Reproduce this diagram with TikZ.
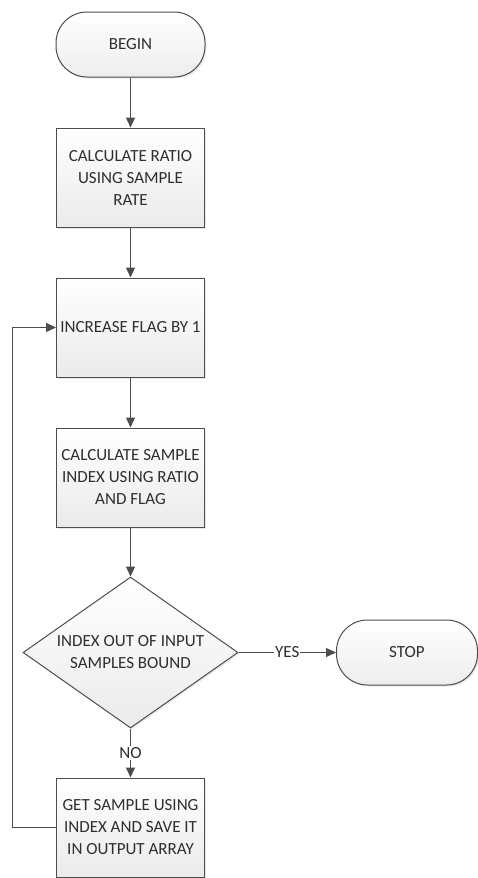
\documentclass[tikz,border=0pt]{standalone}
\usepackage{fontspec}
\setmainfont{Carlito}
\usetikzlibrary{positioning,shapes.geometric,shadows,arrows.meta}
\definecolor{linie}{HTML}{4D4D4D}
\definecolor{schrift}{HTML}{2E2E2E}

\begin{document}
\begin{tikzpicture}[x=1pt, y=-1pt, node distance=150pt]
    % Rahmen der Abbildung
    \useasboundingbox (0,0) rectangle (478,878);

    \tikzstyle{terminal} = [rectangle, rounded corners=31pt, minimum width=149pt, minimum height=65pt, text centered, draw=linie, line width=1pt, top color=white, bottom color=gray!14, drop shadow={shadow xshift=1.5pt, shadow yshift=-1.5pt, opacity=0.18}]
    \tikzstyle{process} = [rectangle, minimum width=148pt, minimum height=99pt, inner sep=0pt, align=center, draw=linie, line width=1pt, top color=white, bottom color=gray!16, drop shadow={shadow xshift=1.5pt, shadow yshift=-1.5pt, opacity=0.18}]
    \tikzstyle{decision} = [diamond, aspect=1.42, minimum width=215pt, minimum height=151pt, inner sep=0pt, align=center, draw=linie, line width=1pt, top color=white, bottom color=gray!16, drop shadow={shadow xshift=1.5pt, shadow yshift=-1.5pt, opacity=0.18}]
    \tikzstyle{arrow} = [line width=1.1pt, draw=linie, -{Triangle[length=10pt, width=9pt]}]
    \tikzstyle{every node} = [font=\fontsize{17}{22}\selectfont, text=schrift]

            % node[Optionen](Name){Inhalt}
            \node (Begin) [terminal] at (130.5,44.5) {BEGIN};
            \node (Ratio) [process, below of=Begin, yshift=17pt] {CALCULATE RATIO\\USING SAMPLE\\RATE};
            \node (Flag) [process, below of=Ratio] {INCREASE FLAG BY 1};
            \node (Index) [process, below of=Flag] {CALCULATE SAMPLE\\INDEX USING RATIO\\AND FLAG};
            \node (Bound) [decision, below of=Index, yshift=-25pt] {INDEX OUT OF INPUT\\SAMPLES BOUND};
            \node (Sample) [process, below of=Bound, yshift=-25pt] {GET SAMPLE USING\\INDEX AND SAVE IT\\IN OUTPUT ARRAY};
            \node (Stop) [terminal, minimum width=141pt, right of=Bound, xshift=126.5pt] {STOP};

            \node (Inv1) [coordinate, left of=Sample, xshift=32pt] {};

            % ----- ----- ----- ----- ----- ----- ----- ----- ----- -----

            \draw [arrow] (Begin) -- (Ratio);
            \draw [arrow] (Ratio) -- (Flag);
            \draw [arrow] (Flag) -- (Index);
            \draw [arrow] (Index) -- (Bound);
            \draw [arrow] (Bound) -- node[fill=white, inner sep=1pt] {YES} (Stop);
            \draw [arrow] (Bound) -- node[fill=white, inner sep=1pt] {NO} (Sample);
            \draw [arrow] (Sample) -- (Inv1) |- (Flag);
\end{tikzpicture}
\end{document}
